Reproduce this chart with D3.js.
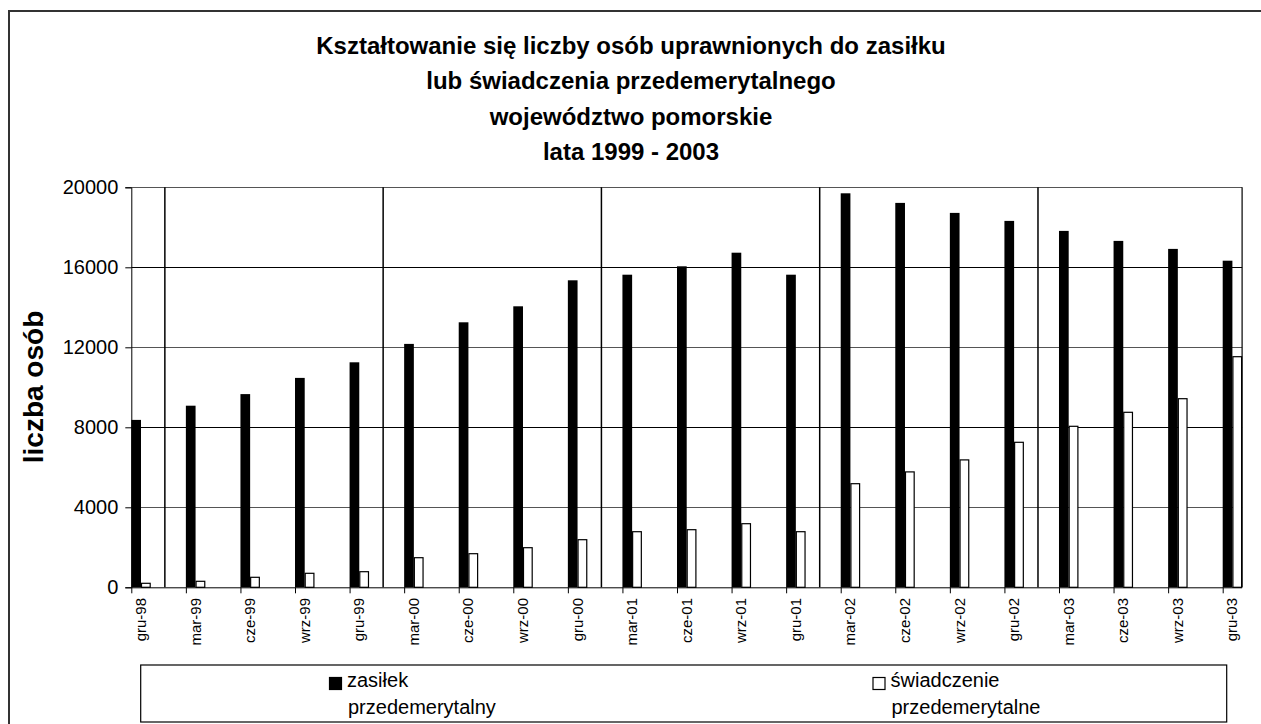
<!DOCTYPE html>
<html>
<head>
<meta charset="utf-8">
<script src="https://cdn.jsdelivr.net/npm/d3@7/dist/d3.min.js"></script>
<style>
  html, body { margin: 0; padding: 0; background: #fff; }
  svg { display: block; font-family: "Liberation Sans", Arial, sans-serif; }
</style>
</head>
<body>
<script>
const categories = ["gru-98","mar-99","cze-99","wrz-99","gru-99","mar-00","cze-00","wrz-00","gru-00",
  "mar-01","cze-01","wrz-01","gru-01","mar-02","cze-02","wrz-02","gru-02","mar-03","cze-03","wrz-03","gru-03"];
const zasilek = [8370, 9080, 9660, 10470, 11250, 12170, 13250, 14050, 15350, 15630, 16050, 16730, 15630,
  19700, 19220, 18720, 18320, 17820, 17320, 16920, 16330];
const swiadczenie = [200, 300, 500, 700, 780, 1480, 1680, 1980, 2380, 2780, 2880, 3180, 2780,
  5180, 5770, 6370, 7250, 8050, 8750, 9430, 11530];
const yTicks = [0, 4000, 8000, 12000, 16000, 20000];
const titleLines = ["Kształtowanie się liczby osób uprawnionych do zasiłku",
  "lub świadczenia przedemerytalnego", "województwo pomorskie", "lata 1999 - 2003"];
const seriesNames = [["zasiłek", "przedemerytalny"], ["świadczenie", "przedemerytalne"]];
const yTitle = "liczba osób";

(function () {
const W = 1261, H = 724;
const svg = d3.select("body").append("svg").attr("width", W).attr("height", H);

// outer border
svg.append("rect").attr("x", 9).attr("y", 11).attr("width", 1262).attr("height", 740)
  .attr("fill", "none").attr("stroke", "#333").attr("stroke-width", 2);

// title
const title = svg.append("text").attr("text-anchor", "middle").attr("font-weight", "bold")
  .attr("font-size", 24).attr("fill", "#000");
titleLines.forEach((t, i) => {
  title.append("tspan").attr("x", 631).attr("y", 53.5 + i * 35.5).text(t);
});

const pLeft = 131.3, pTop = 187.3, pBottom = 587.3;
const barW = 9.7;
const x = d3.scalePoint().domain(categories).range([pLeft, 1222.7]);
const step = x.step();
const pRight = x(categories[categories.length - 1]) + 2 * barW;
const y = d3.scaleLinear().domain([0, 20000]).range([pBottom, pTop]);

// gridlines
svg.append("g").selectAll("line").data(yTicks.filter(d => d > 0)).join("line")
  .attr("x1", pLeft).attr("x2", pRight)
  .attr("y1", d => Math.round(y(d)) + 0.5).attr("y2", d => Math.round(y(d)) + 0.5)
  .attr("stroke", (d, i) => i % 2 === 0 ? "#555" : "#000").attr("stroke-width", 1);

// year separators (after each "gru" except last)
const seps = categories.filter((c, i) => c.startsWith("gru") && i < categories.length - 1);
svg.append("g").selectAll("line").data(seps).join("line")
  .attr("x1", d => x(d) + step * 0.615).attr("x2", d => x(d) + step * 0.615)
  .attr("y1", pTop).attr("y2", pBottom)
  .attr("stroke", "#000").attr("stroke-width", 1.5);

// bars
svg.append("g").selectAll("rect").data(categories).join("rect")
  .attr("x", d => x(d)).attr("width", barW)
  .attr("y", (d, i) => y(zasilek[i])).attr("height", (d, i) => pBottom - y(zasilek[i]))
  .attr("fill", "#000");
svg.append("g").selectAll("rect").data(categories).join("rect")
  .attr("x", d => x(d) + barW + 0.5).attr("width", barW - 1)
  .attr("y", (d, i) => y(swiadczenie[i])).attr("height", (d, i) => pBottom - y(swiadczenie[i]))
  .attr("fill", "#fff").attr("stroke", "#000").attr("stroke-width", 1.2);

// plot frame right edge
svg.append("line").attr("x1", pRight).attr("x2", pRight).attr("y1", pTop).attr("y2", pBottom)
  .attr("stroke", "#000").attr("stroke-width", 1.2);

// y axis
const yAxis = d3.axisLeft(y).tickValues(yTicks).tickSize(6).tickPadding(7).tickFormat(d3.format("d"));
const gy = svg.append("g").attr("transform", `translate(${pLeft},0)`).call(yAxis);
gy.selectAll("text").attr("font-size", 20).attr("font-family", "Liberation Sans, Arial, sans-serif").attr("fill", "#000");
gy.selectAll("line, path").attr("stroke", "#000");

// x axis
const xAxis = d3.axisBottom(x).tickSize(6).tickFormat("");
const gx = svg.append("g").attr("transform", `translate(0,${pBottom})`).call(xAxis);
gx.select("path").attr("d", `M${pLeft},0.5H${pRight}`).attr("stroke", "#000");
gx.selectAll("line").attr("stroke", "#000");

svg.append("g").selectAll("text").data(categories).join("text")
  .attr("transform", d => `translate(${x(d) + 9.5},598) rotate(-90)`)
  .attr("text-anchor", "end").attr("dy", "0.35em")
  .attr("font-size", 15).attr("fill", "#000").text(d => d);

// y title
svg.append("text").attr("transform", "translate(43,387) rotate(-90)")
  .attr("text-anchor", "middle").attr("font-weight", "bold").attr("font-size", 28)
  .attr("fill", "#000").text(yTitle);

// legend
svg.append("rect").attr("x", 140.7).attr("y", 665).attr("width", 1086).attr("height", 57)
  .attr("fill", "#fff").attr("stroke", "#000").attr("stroke-width", 1.2);
const legX = [329, 872.5];
const legFill = ["#000", "#fff"];
seriesNames.forEach((lines, i) => {
  svg.append("rect").attr("x", legX[i] + 0.5).attr("y", 677.5).attr("width", 12).attr("height", 12)
    .attr("fill", legFill[i]).attr("stroke", "#000").attr("stroke-width", 1.2);
  const t = svg.append("text").attr("font-size", 20).attr("fill", "#000");
  lines.forEach((l, j) => {
    t.append("tspan").attr("x", legX[i] + 18 + j * 1).attr("y", 687 + j * 26.5).text(l);
  });
});
})();
</script>
</body>
</html>
